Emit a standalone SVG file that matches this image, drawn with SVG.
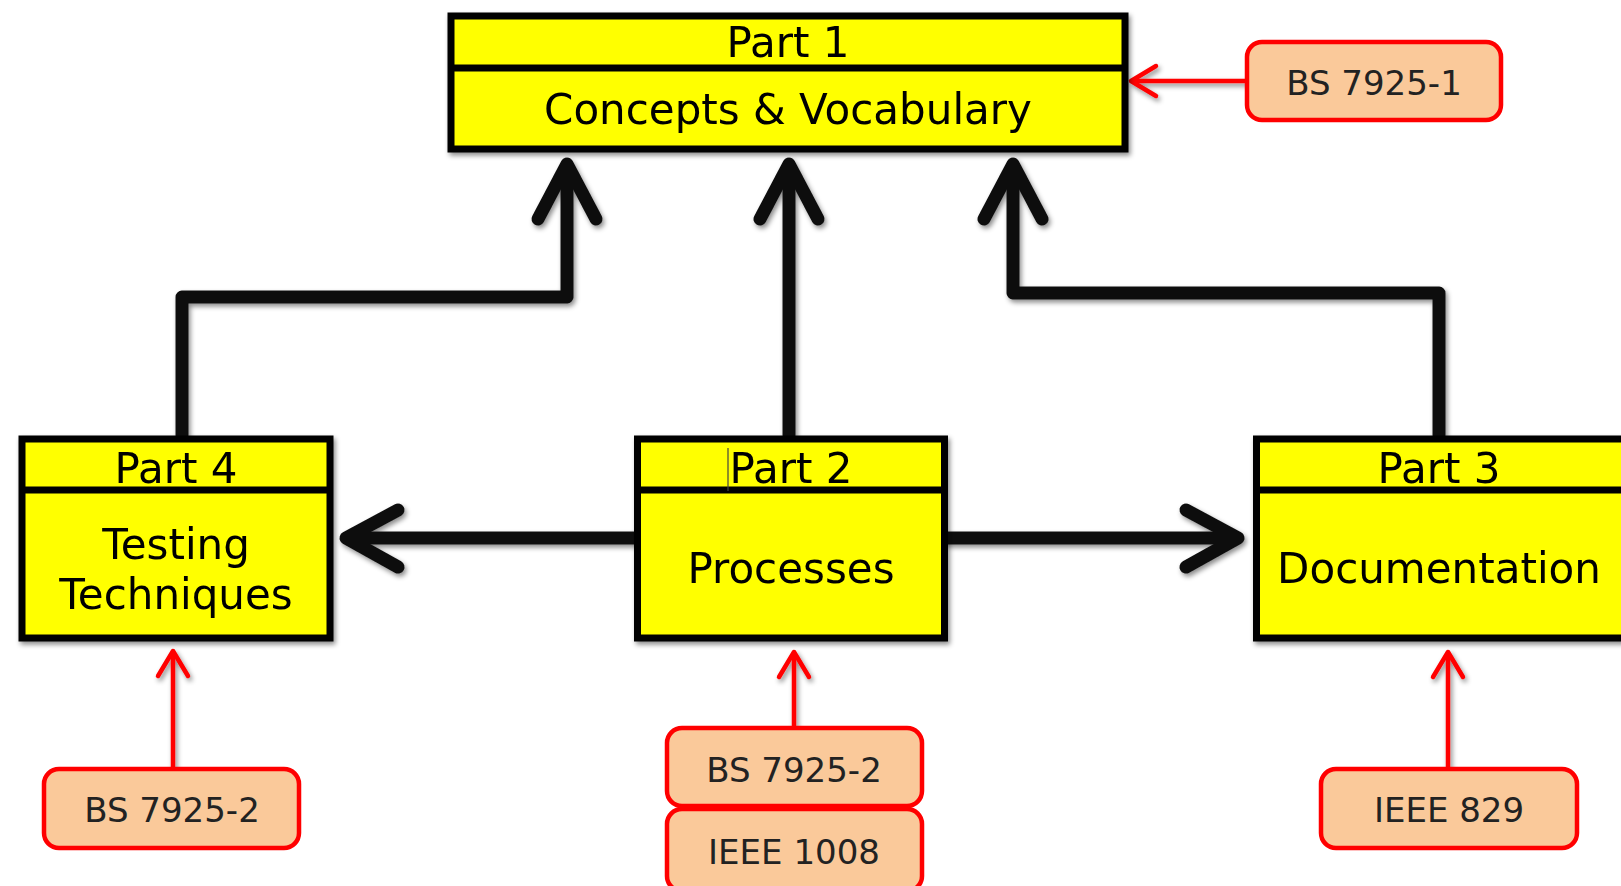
<svg xmlns="http://www.w3.org/2000/svg" width="1621" height="886" viewBox="0 0 1621 886">
<style>
.box{fill:#FFFF00;stroke:#000;stroke-width:7}
.div{stroke:#000;stroke-width:7}
.big{font-family:"DejaVu Sans","Liberation Sans",sans-serif;font-size:42px;fill:#000;text-anchor:middle}
.tag{fill:#FAC99A;stroke:#FF0000;stroke-width:4.5}
.small{font-family:"DejaVu Sans","Liberation Sans",sans-serif;font-size:34px;fill:#222;text-anchor:middle}
.blk{fill:none;stroke:#111;stroke-width:13;stroke-linecap:round;stroke-linejoin:round}
.red{fill:none;stroke:#FF0000;stroke-width:4.5;stroke-linecap:round;stroke-linejoin:round}
</style>
<defs>
<filter id="sh" x="-10%" y="-10%" width="120%" height="130%">
<feDropShadow dx="2" dy="3" stdDeviation="2.5" flood-color="#000" flood-opacity="0.45"/>
</filter>
</defs>
<rect width="1621" height="886" fill="#fff"/>
<g id="connectors">
<g filter="url(#sh)">
<path class="blk" d="M182 435 V297 H567 V166"/>
<path class="blk" d="M538 219 L567 164 L596 219"/>
<path class="blk" d="M789 435 V166"/>
<path class="blk" d="M760 219 L789 164 L818 219"/>
<path class="blk" d="M1439 435 V293 H1013 V166"/>
<path class="blk" d="M984 219 L1013 164 L1042 219"/>
<path class="blk" d="M634 538 H348"/>
<path class="blk" d="M398 510 L346 538 L398 567"/>
<path class="blk" d="M948 538 H1236"/>
<path class="blk" d="M1186 510 L1238 538 L1186 567"/>
</g>
<g filter="url(#sh)">
<path class="red" d="M1247 81 H1133"/>
<path class="red" d="M1156 66 L1131 81 L1156 96"/>
<path class="red" d="M173 768 V652"/>
<path class="red" d="M158 676 L173 651 L188 676"/>
<path class="red" d="M794 727 V653"/>
<path class="red" d="M779 677 L794 652 L809 677"/>
<path class="red" d="M1448 768 V653"/>
<path class="red" d="M1433 677 L1448 652 L1463 677"/>
</g>
</g>
<g id="part1" filter="url(#sh)">
<rect class="box" x="451" y="16" width="674" height="133"/>
<line class="div" x1="449" y1="68" x2="1127" y2="68"/>
<text class="big" x="788" y="57">Part 1</text>
<text class="big" x="788" y="124">Concepts &amp; Vocabulary</text>
</g>
<g id="part4" filter="url(#sh)">
<rect class="box" x="22" y="439" width="308" height="199"/>
<line class="div" x1="20" y1="490" x2="332" y2="490"/>
<text class="big" x="176" y="483">Part 4</text>
<text class="big" x="176" y="559">Testing</text>
<text class="big" x="176" y="609">Techniques</text>
</g>
<g id="part2" filter="url(#sh)">
<rect class="box" x="637.5" y="439" width="307" height="199"/>
<line class="div" x1="636" y1="490" x2="946" y2="490"/>
<text class="big" x="791" y="483">Part 2</text>
<line x1="728" y1="448" x2="728" y2="491" stroke="#444" stroke-width="1.2"/>
<text class="big" x="791" y="583">Processes</text>
</g>
<g id="part3" filter="url(#sh)">
<rect class="box" x="1256.5" y="439" width="420" height="199"/>
<line class="div" x1="1255" y1="490" x2="1630" y2="490"/>
<text class="big" x="1439" y="483">Part 3</text>
<text class="big" x="1439" y="583">Documentation</text>
</g>
<g id="bs7925-1">
<rect class="tag" x="1247" y="42" width="254" height="78" rx="15"/>
<text class="small" x="1374" y="95">BS 7925-1</text>
</g>
<g id="bs7925-2-left">
<rect class="tag" x="44" y="769" width="255" height="79" rx="15"/>
<text class="small" x="172" y="822">BS 7925-2</text>
</g>
<g id="bs7925-2-center">
<rect class="tag" x="667" y="728" width="255" height="78" rx="15"/>
<text class="small" x="794" y="782">BS 7925-2</text>
</g>
<g id="ieee1008">
<rect class="tag" x="667" y="809" width="255" height="82" rx="15"/>
<text class="small" x="794" y="864">IEEE 1008</text>
</g>
<g id="ieee829">
<rect class="tag" x="1321" y="769" width="256" height="79" rx="15"/>
<text class="small" x="1449" y="822">IEEE 829</text>
</g>
</svg>
